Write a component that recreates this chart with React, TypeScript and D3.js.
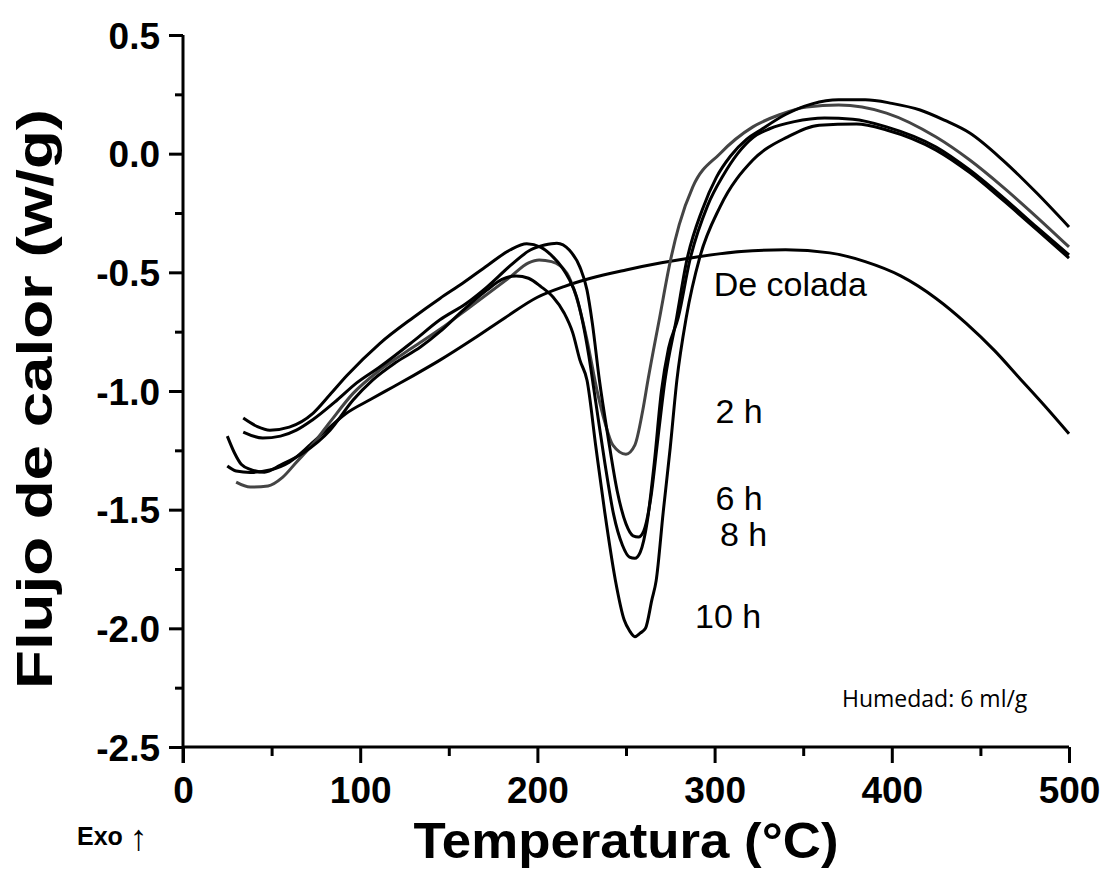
import React, { useEffect, useRef } from "react";
import * as d3 from "d3";

const W = 1104;
const H = 881;
const margin = { left: 183, right: 35, top: 35, bottom: 134 };

// [temperature °C, heat flow w/g]
const deColada = [
  [25, -1.316], [30, -1.337], [38, -1.343], [49, -1.333], [60, -1.3], [72, -1.225],
  [81, -1.165], [92, -1.095], [106, -1.035], [118, -0.985], [130, -0.935], [145, -0.87],
  [164, -0.78], [182, -0.69], [200, -0.605], [215, -0.56], [230, -0.525], [250, -0.49],
  [270, -0.46], [290, -0.435], [315, -0.412], [340, -0.405], [365, -0.418], [385, -0.455],
  [405, -0.515], [425, -0.61], [442, -0.715], [458, -0.83], [472, -0.945], [486, -1.06],
  [500, -1.18]
];

const h2 = [
  [30, -1.384], [38, -1.405], [48, -1.4], [56, -1.365], [64, -1.3], [72, -1.235],
  [83, -1.13], [96, -1.01], [111, -0.912], [130, -0.815], [145, -0.74], [162, -0.646],
  [184.5, -0.52], [195, -0.46], [201, -0.448], [208, -0.455], [216.6, -0.503], [222, -0.604],
  [228, -0.785], [233.6, -0.996], [238, -1.13], [242.6, -1.228], [250, -1.266], [255, -1.228],
  [259.5, -1.08], [262.4, -0.954], [269, -0.69], [274.8, -0.46], [280, -0.3], [287.7, -0.14],
  [303, 0.0], [321.6, 0.113], [337, 0.165], [352, 0.197], [370, 0.205], [397, 0.171],
  [425, 0.07], [444, -0.027], [462.6, -0.14], [481.8, -0.267], [500, -0.393]
];

const h6 = [
  [34, -1.173], [45, -1.198], [55, -1.19], [64, -1.165], [73, -1.122], [87, -1.038],
  [98, -0.966], [111, -0.899], [130, -0.79], [145, -0.7], [160, -0.63], [171.5, -0.562],
  [185, -0.47], [196, -0.406], [204, -0.385], [211, -0.377], [218, -0.406], [224, -0.478],
  [228, -0.575], [231, -0.714], [235, -0.955], [240, -1.2], [245, -1.42], [250, -1.56],
  [254, -1.61], [257, -1.615], [260, -1.59], [264, -1.45], [268, -1.2], [272, -0.955],
  [278.6, -0.69], [284, -0.46], [293, -0.237], [301, -0.1], [309, -0.01], [318, 0.06],
  [326, 0.1], [340, 0.165], [355, 0.21], [370, 0.227], [385, 0.227], [400, 0.212],
  [416, 0.184], [430, 0.14], [444, 0.087], [462.6, -0.027], [481.8, -0.166], [500, -0.309]
];

const h8 = [
  [34, -1.114], [42, -1.15], [49, -1.165], [60, -1.152], [73.5, -1.093], [83, -1.015],
  [92.5, -0.935], [111, -0.8], [130, -0.69], [145, -0.61], [158, -0.545], [172, -0.47],
  [184.5, -0.406], [194, -0.38], [202, -0.395], [208.8, -0.435], [214, -0.48], [218, -0.53],
  [222, -0.6], [225.7, -0.714], [229, -0.85], [233, -1.05], [238, -1.3], [243, -1.52],
  [248, -1.65], [252, -1.7], [255, -1.705], [258, -1.68], [262, -1.55], [266, -1.3],
  [270, -1.0], [274, -0.82], [279.5, -0.69], [286, -0.45], [296, -0.22], [305, -0.09],
  [313, 0.0], [322, 0.07], [331, 0.105], [345, 0.135], [362, 0.15], [378, 0.145],
  [397, 0.113], [425, 0.028], [444, -0.069], [462.6, -0.183], [481.8, -0.31], [500, -0.427]
];

const h10 = [
  [25, -1.19], [29, -1.26], [33, -1.31], [38, -1.33], [46, -1.342], [55, -1.312],
  [68, -1.26], [83, -1.165], [96, -1.038], [107, -0.954], [120, -0.88], [134, -0.815],
  [145, -0.75], [158, -0.66], [171.5, -0.575], [180, -0.53], [188, -0.515], [195, -0.525],
  [202, -0.56], [208.8, -0.604], [215, -0.67], [220, -0.756], [224, -0.87], [228, -0.955],
  [233, -1.236], [238, -1.51], [244, -1.797], [249, -1.965], [252, -2.01], [255, -2.035],
  [258, -2.02], [261, -2.0], [264.6, -1.88], [267, -1.8], [271, -1.51], [275, -1.236],
  [278.7, -0.955], [284, -0.69], [291.7, -0.435], [303, -0.225], [321.6, -0.027], [341, 0.07],
  [359, 0.12], [380, 0.125], [397, 0.1], [425, 0.015], [444, -0.08], [462.6, -0.195],
  [481.8, -0.32], [500, -0.44]
];

const series = [
  { id: "De colada", values: deColada, color: "#000" },
  { id: "2 h", values: h2, color: "#444" },
  { id: "6 h", values: h6, color: "#000" },
  { id: "8 h", values: h8, color: "#000" },
  { id: "10 h", values: h10, color: "#000" }
];

// curve labels: [text, temperature, value] of the text start / baseline
const curveLabels = [
  ["De colada", 299.5, -0.6],
  ["2 h", 300.5, -1.135],
  ["6 h", 300.5, -1.5],
  ["8 h", 303, -1.655],
  ["10 h", 289, -2.0]
];

const xTicks = [0, 100, 200, 300, 400, 500];
const yTicks = [0.5, 0.0, -0.5, -1.0, -1.5, -2.0, -2.5];

const FONT = "'Liberation Sans', Arial, sans-serif";

const isMajorY = (d: number) => yTicks.some(t => Math.abs(t - d) < 1e-6);

export default function App() {
  const ref = useRef<SVGSVGElement>(null);

  useEffect(() => {
    const svg = d3.select(ref.current);
    svg.selectAll("*").remove();

    const width = W - margin.left - margin.right;
    const height = H - margin.top - margin.bottom;

    const x = d3.scaleLinear().domain([0, 500]).range([0, width]);
    const y = d3.scaleLinear().domain([-2.5, 0.5]).range([height, 0]);

    const g = svg
      .append("g")
      .attr("transform", `translate(${margin.left}, ${margin.top})`);

    // curves
    const line = d3
      .line<number[]>()
      .curve(d3.curveMonotoneX)
      .x(d => x(d[0]))
      .y(d => y(d[1]));

    g.selectAll(".curve")
      .data(series)
      .enter()
      .append("path")
      .attr("class", "curve")
      .attr("d", d => line(d.values))
      .attr("fill", "none")
      .attr("stroke", d => d.color)
      .attr("stroke-width", 3)
      .attr("stroke-linejoin", "round");

    // x axis
    const xAxis = g
      .append("g")
      .attr("transform", `translate(0, ${height})`)
      .call(
        d3
          .axisBottom(x)
          .tickValues(d3.range(0, 501, 50))
          .tickSize(15)
          .tickSizeOuter(0)
          .tickFormat(d => (xTicks.includes(+d) ? String(d) : ""))
      );
    xAxis.select(".domain").attr("stroke-width", 3).attr("d", `M0,0H${width}`);
    xAxis
      .selectAll(".tick line")
      .attr("stroke-width", 3)
      .attr("y2", d => (xTicks.includes(+d) ? 16 : 9));
    xAxis
      .selectAll(".tick text")
      .attr("y", 56)
      .attr("dy", 0)
      .attr("font-family", FONT)
      .attr("font-weight", "bold")
      .attr("font-size", 37)
      .attr("fill", "#000");

    // y axis
    const yAxis = g.append("g").call(
      d3
        .axisLeft(y)
        .tickValues(d3.range(-2.5, 0.51, 0.25))
        .tickSize(14)
        .tickSizeOuter(0)
        .tickFormat(d => (isMajorY(+d) ? (+d).toFixed(1) : ""))
    );
    yAxis.select(".domain").attr("stroke-width", 3).attr("d", `M0,0V${height + 16}`);
    yAxis
      .selectAll(".tick line")
      .attr("stroke-width", 3)
      .attr("x2", d => (isMajorY(+d) ? -14 : -8));
    yAxis
      .selectAll(".tick text")
      .attr("x", -23)
      .attr("dy", "0.36em")
      .attr("font-family", FONT)
      .attr("font-weight", "bold")
      .attr("font-size", 37)
      .attr("fill", "#000");

    // curve labels
    g.selectAll(".clabel")
      .data(curveLabels)
      .enter()
      .append("text")
      .attr("class", "clabel")
      .attr("x", d => x(d[1] as number))
      .attr("y", d => y(d[2] as number))
      .attr("font-family", FONT)
      .attr("font-size", 34)
      .attr("fill", "#000")
      .text(d => d[0] as string);

    // axis titles
    svg
      .append("text")
      .attr("x", margin.left + width / 2)
      .attr("y", 858)
      .attr("text-anchor", "middle")
      .attr("font-family", FONT)
      .attr("font-weight", "bold")
      .attr("font-size", 50)
      .attr("textLength", 425)
      .attr("lengthAdjust", "spacingAndGlyphs")
      .text("Temperatura (°C)");

    svg
      .append("text")
      .attr("transform", `translate(52, 399) rotate(-90)`)
      .attr("text-anchor", "middle")
      .attr("font-family", FONT)
      .attr("font-weight", "bold")
      .attr("font-size", 50)
      .attr("textLength", 580)
      .attr("lengthAdjust", "spacingAndGlyphs")
      .text("Flujo de calor (w/g)");

    const exo = svg
      .append("text")
      .attr("x", 77)
      .attr("y", 845)
      .attr("font-family", FONT)
      .attr("font-weight", "bold")
      .attr("font-size", 25);
    exo.append("tspan").text("Exo ");
    exo
      .append("tspan")
      .attr("font-weight", "normal")
      .attr("font-size", 36)
      .attr("dy", 5)
      .text("↑");

    svg
      .append("text")
      .attr("x", 842)
      .attr("y", 707)
      .attr("font-family", "'Open Sans', sans-serif")
      .attr("font-size", 23)
      .text("Humedad: 6 ml/g");
  }, []);

  return (
    <svg
      ref={ref}
      width={W}
      height={H}
      style={{ position: "absolute", left: 0, top: 0, background: "#fff" }}
    />
  );
}
